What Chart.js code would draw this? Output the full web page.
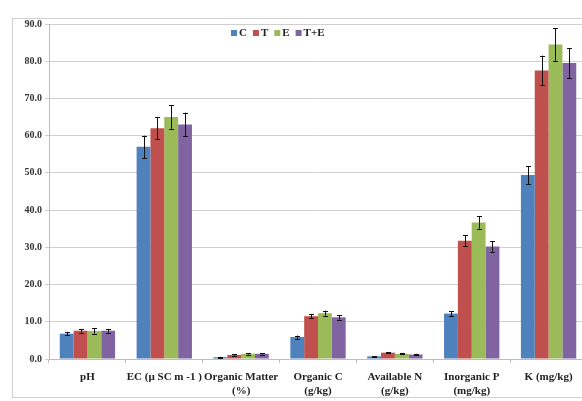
<!DOCTYPE html>
<html><head><meta charset="utf-8">
<script src="https://cdn.jsdelivr.net/npm/chart.js@4"></script>
<style>
html,body{margin:0;padding:0;background:#fff;overflow:hidden;}
#wrap{position:relative;width:582px;height:401px;overflow:hidden;}
canvas{position:absolute;left:0;top:0;}
</style></head>
<body><div id="wrap"><canvas id="c" width="600" height="401"></canvas></div>
<script>
const categories = ["pH", "EC (\u00b5 SC m -1 )", ["Organic Matter","(%)"], ["Organic C","(g/kg)"], ["Available N","(g/kg)"], ["Inorganic P","(mg/kg)"], "K (mg/kg)"];
const seriesNames = ["C", "T", "E", "T+E"];
const valuesC  = [6.8, 57.0, 0.5, 5.9, 0.7, 12.2, 49.4];
const valuesT  = [7.6, 62.0, 1.1, 11.5, 1.7, 31.8, 77.5];
const valuesE  = [7.5, 65.0, 1.4, 12.3, 1.4, 36.7, 84.5];
const valuesTE = [7.6, 63.0, 1.4, 11.2, 1.2, 30.2, 79.5];
const errC  = [0.4, 3.0, 0.1, 0.4, 0.1, 0.7, 2.4];
const errT  = [0.5, 3.0, 0.2, 0.6, 0.1, 1.4, 4.0];
const errE  = [0.7, 3.2, 0.2, 0.7, 0.1, 1.7, 4.4];
const errTE = [0.5, 3.2, 0.2, 0.6, 0.2, 1.4, 4.0];
const yTicks = [0, 10, 20, 30, 40, 50, 60, 70, 80, 90];
const colors = ["#4F81BD", "#C0504D", "#9BBB59", "#8064A2"];

const allValues = [valuesC, valuesT, valuesE, valuesTE];
const allErrs = [errC, errT, errE, errTE];
const FONT = "'Liberation Serif', 'DejaVu Serif', serif";

const errorBars = {
  id: 'errorBars',
  afterDatasetsDraw(chart) {
    const ctx = chart.ctx, y = chart.scales.y;
    ctx.save();
    ctx.strokeStyle = '#111';
    ctx.lineWidth = 1;
    chart.data.datasets.forEach((ds, i) => {
      const meta = chart.getDatasetMeta(i);
      meta.data.forEach((bar, j) => {
        const v = ds.data[j], e = ds.errors[j];
        const x = Math.round(bar.x) + 0.5;
        const yt = y.getPixelForValue(v + e), yb = y.getPixelForValue(v - e);
        ctx.beginPath();
        ctx.moveTo(x, yt); ctx.lineTo(x, yb);
        ctx.moveTo(x - 2.5, Math.round(yt) + 0.5); ctx.lineTo(x + 2.5, Math.round(yt) + 0.5);
        ctx.moveTo(x - 2.5, Math.round(yb) + 0.5); ctx.lineTo(x + 2.5, Math.round(yb) + 0.5);
        ctx.stroke();
      });
    });
    ctx.restore();
  }
};

const frameAndLegend = {
  id: 'frameAndLegend',
  beforeDraw(chart) {
    const ctx = chart.ctx;
    ctx.save();
    ctx.strokeStyle = '#d0d0d0';
    ctx.lineWidth = 1;
    ctx.strokeRect(12.5, 18.5, 620, 379);
    ctx.restore();
  },
  afterDraw(chart) {
    const ctx = chart.ctx;
    ctx.save();
    ctx.font = "bold 11px " + FONT;
    ctx.textBaseline = 'middle';
    let x = 231; const yc = 33;
    chart.data.datasets.forEach((ds) => {
      ctx.fillStyle = ds.backgroundColor;
      ctx.fillRect(x, yc - 3, 6, 6);
      x += 8;
      ctx.fillStyle = '#222';
      ctx.fillText(ds.label, x, yc + 0.5);
      x += ctx.measureText(ds.label).width + 6;
    });
    ctx.restore();
  }
};

new Chart(document.getElementById('c'), {
  type: 'bar',
  data: {
    labels: categories,
    datasets: seriesNames.map((n, i) => ({
      label: n,
      data: allValues[i],
      errors: allErrs[i],
      backgroundColor: colors[i],
      borderWidth: 0,
      categoryPercentage: 0.72,
      barPercentage: 1.0
    }))
  },
  options: {
    responsive: false,
    animation: false,
    layout: { padding: { left: 0, right: 13, top: 24, bottom: 0 } },
    plugins: { legend: { display: false }, tooltip: { enabled: false } },
    scales: {
      x: {
        offset: true,
        grid: { display: true, drawOnChartArea: false, offset: true, color: '#bdbdbd', tickLength: 4 },
        border: { color: '#bdbdbd' },
        ticks: { color: '#222', font: { family: FONT, size: 11, weight: 'bold', lineHeight: 1.3 }, maxRotation: 0, autoSkip: false, padding: 7 },
        afterFit(s) { s.height = 42; }
      },
      y: {
        min: 0, max: 90,
        afterBuildTicks(s) { s.ticks = yTicks.map(v => ({ value: v })); },
        grid: { color: '#cfcfcf', tickLength: 4 },
        border: { color: '#bdbdbd' },
        ticks: { color: '#333', font: { family: FONT, size: 10, weight: 'bold' }, padding: 3,
                 callback: v => Number(v).toFixed(1) },
        afterFit(s) { s.width = 49; }
      }
    }
  },
  plugins: [errorBars, frameAndLegend]
});
</script></body></html>
